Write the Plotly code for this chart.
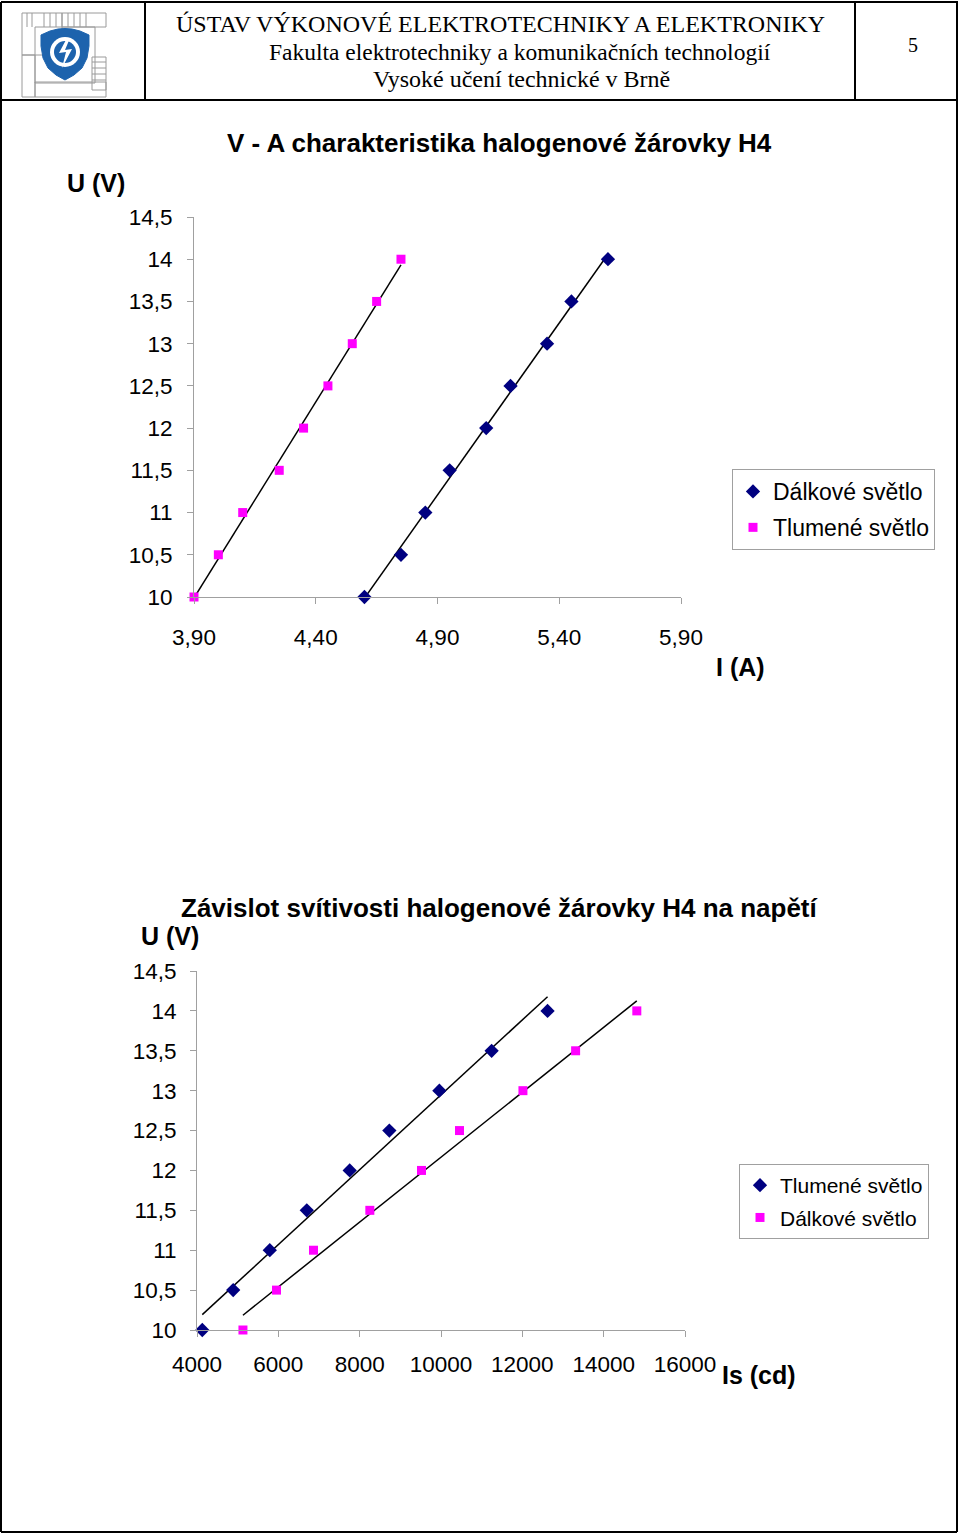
import numpy as np
import plotly.graph_objects as go

W, H = 960, 1534

# ---------------- Data ----------------
# Chart 1: V-A characteristic
u_values = [10, 10.5, 11, 11.5, 12, 12.5, 13, 13.5, 14]
i_dalkove = [4.60, 4.75, 4.85, 4.95, 5.10, 5.20, 5.35, 5.45, 5.60]
i_tlumene = [3.90, 4.00, 4.10, 4.25, 4.35, 4.45, 4.55, 4.65, 4.75]

# Chart 2: luminous intensity vs voltage
is_tlumene = [4130, 4890, 5790, 6700, 7755, 8730, 9960, 11245, 12620]
is_dalkove = [5130, 5955, 6865, 8250, 9520, 10455, 12015, 13310, 14815]

y_ticks = [10, 10.5, 11, 11.5, 12, 12.5, 13, 13.5, 14, 14.5]
y_ticklabels = ["10", "10,5", "11", "11,5", "12", "12,5", "13", "13,5", "14", "14,5"]
x1_ticks = [3.90, 4.40, 4.90, 5.40, 5.90]
x1_ticklabels = ["3,90", "4,40", "4,90", "5,40", "5,90"]
x2_ticks = [4000, 6000, 8000, 10000, 12000, 14000, 16000]
x2_ticklabels = ["4000", "6000", "8000", "10000", "12000", "14000", "16000"]

NAVY = "#000080"
MAGENTA = "#FF00FF"
AXIS_GRAY = "#A0A0A0"
FONT = "Liberation Sans, Arial"
LFONT = "Liberation Sans, Arial"


def px(x):
    return x / W


def py(y):
    return 1 - y / H


def trend(xs, ys):
    k, q = np.polyfit(xs, ys, 1)
    xx = [min(xs), max(xs)]
    return xx, [k * v + q for v in xx]


fig = go.Figure()

# Chart 1 traces
for xs in (i_tlumene, i_dalkove):
    tx, ty = trend(xs, u_values)
    fig.add_trace(go.Scatter(x=tx, y=ty, mode="lines", line=dict(color="black", width=1.5),
                             showlegend=False, hoverinfo="skip", xaxis="x", yaxis="y"))
fig.add_trace(go.Scatter(x=i_dalkove, y=u_values, mode="markers", name="Dálkové světlo",
                         marker=dict(symbol="diamond", size=11, color=NAVY), legendgroup="a",
                         cliponaxis=False, xaxis="x", yaxis="y", legend="legend"))
fig.add_trace(go.Scatter(x=i_tlumene, y=u_values, mode="markers", name="Tlumené světlo",
                         marker=dict(symbol="square", size=9, color=MAGENTA), legendgroup="b",
                         cliponaxis=False, xaxis="x", yaxis="y", legend="legend"))

# Chart 2 traces
for xs in (is_tlumene, is_dalkove):
    tx, ty = trend(xs, u_values)
    fig.add_trace(go.Scatter(x=tx, y=ty, mode="lines", line=dict(color="black", width=1.5),
                             showlegend=False, hoverinfo="skip", xaxis="x2", yaxis="y2"))
fig.add_trace(go.Scatter(x=is_tlumene, y=u_values, mode="markers", name="Tlumené světlo",
                         marker=dict(symbol="diamond", size=11, color=NAVY), legendgroup="c",
                         cliponaxis=False, xaxis="x2", yaxis="y2", legend="legend2"))
fig.add_trace(go.Scatter(x=is_dalkove, y=u_values, mode="markers", name="Dálkové světlo",
                         marker=dict(symbol="square", size=9, color=MAGENTA), legendgroup="d",
                         cliponaxis=False, xaxis="x2", yaxis="y2", legend="legend2"))

axis_common = dict(showgrid=False, zeroline=False, showline=True, linecolor=AXIS_GRAY,
                   linewidth=1, ticks="outside", tickcolor=AXIS_GRAY, ticklen=6, automargin=False,
                   tickfont=dict(family=FONT, size=22.5, color="black"), fixedrange=True)

annotations = []
shapes = []

def ann(text, x, y, size, bold=False, family=FONT, xanchor="center"):
    annotations.append(dict(text=("<b>%s</b>" % text) if bold else text, x=px(x), y=py(y),
                            xref="paper", yref="paper", showarrow=False, xanchor=xanchor,
                            yanchor="middle", font=dict(family=family, size=size, color="black")))

# Header texts
SERIF = "Liberation Serif, Times New Roman, serif"
ann("ÚSTAV VÝKONOVÉ ELEKTROTECHNIKY A ELEKTRONIKY", 500, 24, 24, family=SERIF)
ann("Fakulta elektrotechniky a komunikačních technologií", 520, 52, 23.5, family=SERIF)
ann("Vysoké učení technické v Brně", 521, 79, 24, family=SERIF)
ann("5", 913, 45, 20, family=SERIF)

# Chart titles and axis titles
ann("V - A charakteristika halogenové žárovky H4", 499, 143, 26, bold=True)
ann("U (V)", 96, 183, 25, bold=True)
ann("I (A)", 740, 667, 25, bold=True)
ann("Závislot svítivosti halogenové žárovky H4 na napětí", 499, 908, 26, bold=True)
ann("U (V)", 170, 936, 25, bold=True)
ann("Is (cd)", 759, 1375, 25, bold=True)

# Page frame and header table
def seg(x0, y0, x1, y1, color="black", width=2):
    shapes.append(dict(type="line", xref="paper", yref="paper", x0=px(x0), y0=py(y0),
                       x1=px(x1), y1=py(y1), line=dict(color=color, width=width)))

seg(1, 2, 958, 2)
seg(1, 2, 1, 1532)
seg(957, 2, 957, 1532)
seg(1, 1532, 957, 1532)
seg(1, 100, 957, 100)
seg(145, 2, 145, 100)
seg(855, 2, 855, 100)

# Logo (simplified drawing)
LG = "#9a9a9a"
for (x0, y0, x1, y1) in [(22, 13, 62, 55), (62, 13, 106, 27), (22, 55, 35, 97), (35, 82, 106, 97),
                         (92, 57, 106, 90), (35, 27, 95, 83)]:
    shapes.append(dict(type="rect", xref="paper", yref="paper", x0=px(x0), y0=py(y1), x1=px(x1), y1=py(y0),
                       line=dict(color=LG, width=1)))
for xv in (27, 32, 44, 50, 56, 68, 74, 80, 86):
    seg(xv, 13, xv, 27, LG, 1)
for yv in (62, 68, 74, 80):
    seg(92, yv, 106, yv, LG, 1)

def path_pts(pts):
    d = "M %f,%f " % (px(pts[0][0]), py(pts[0][1]))
    for p in pts[1:]:
        d += "L %f,%f " % (px(p[0]), py(p[1]))
    return d + "Z"

shield = [(41, 35), (50, 31), (58, 29), (65, 28.5), (72, 29), (80, 31), (89, 35), (89, 46), (87, 58),
          (82, 68), (74, 75), (65, 80), (56, 75), (48, 68), (43, 58), (41, 46)]
shapes.append(dict(type="path", xref="paper", yref="paper", path=path_pts(shield),
                   fillcolor="#1d63ad", line=dict(color="#1d63ad", width=1)))
shapes.append(dict(type="circle", xref="paper", yref="paper", x0=px(50), y0=py(67), x1=px(80), y1=py(37),
                   fillcolor="white", line=dict(color="white", width=0)))
shapes.append(dict(type="circle", xref="paper", yref="paper", x0=px(54), y0=py(63), x1=px(76), y1=py(41),
                   fillcolor="#1d63ad", line=dict(color="#1d63ad", width=0)))
bolt = [(67, 38), (59, 53), (66, 52), (62, 68), (72, 49), (65, 50), (70, 38)]
shapes.append(dict(type="path", xref="paper", yref="paper", path=path_pts(bolt),
                   fillcolor="white", line=dict(color="white", width=0)))

fig.update_layout(
    width=W, height=H, margin=dict(l=0, r=0, t=0, b=0, pad=0, autoexpand=False),
    paper_bgcolor="white", plot_bgcolor="white",
    xaxis=dict(axis_common, domain=[px(194), px(681)], range=[3.9, 5.9], tickvals=x1_ticks,
               ticktext=x1_ticklabels, anchor="y", ticklabelstandoff=14),
    yaxis=dict(axis_common, domain=[py(597), py(217)], range=[10, 14.5], tickvals=y_ticks,
               ticktext=y_ticklabels, anchor="x", ticklabelstandoff=10),
    xaxis2=dict(axis_common, domain=[px(197), px(685)], range=[4000, 16000], tickvals=x2_ticks,
                ticktext=x2_ticklabels, anchor="y2", ticklabelstandoff=8),
    yaxis2=dict(axis_common, domain=[py(1330), py(971)], range=[10, 14.5], tickvals=y_ticks,
                ticktext=y_ticklabels, anchor="x2", ticklabelstandoff=9),
    legend=dict(x=px(732), y=py(469), xanchor="left", yanchor="top", bgcolor="white",
                bordercolor=AXIS_GRAY, borderwidth=1, font=dict(family=LFONT, size=23, color="black"),
                itemwidth=30, tracegroupgap=3),
    legend2=dict(x=px(739), y=py(1164), xanchor="left", yanchor="top", bgcolor="white",
                 bordercolor=AXIS_GRAY, borderwidth=1, font=dict(family=LFONT, size=21, color="black"),
                 itemwidth=30, tracegroupgap=2),
    annotations=annotations,
    shapes=shapes,
    showlegend=True,
)

fig.write_html("out.html", config={"displayModeBar": False},
               post_script="document.body.style.margin='0';document.body.style.overflow='hidden';")
